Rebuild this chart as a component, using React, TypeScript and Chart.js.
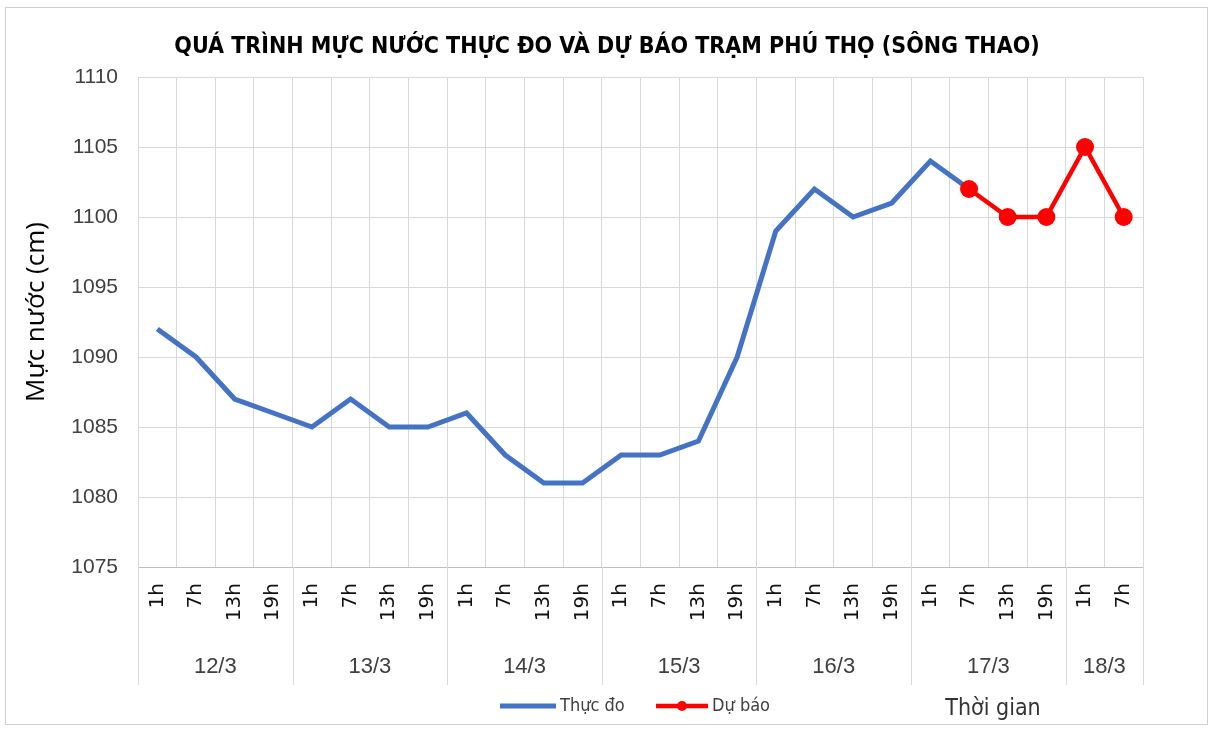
import React, { useEffect, useRef } from "react";
import { Chart, registerables } from "chart.js";

Chart.register(...registerables);

const chartTitle = "QUÁ TRÌNH MỰC NƯỚC THỰC ĐO VÀ DỰ BÁO TRẠM PHÚ THỌ (SÔNG THAO)";
const yAxisTitle = "Mực nước (cm)";
const xAxisTitle = "Thời gian";

const timeLabels = [
  "1h", "7h", "13h", "19h",
  "1h", "7h", "13h", "19h",
  "1h", "7h", "13h", "19h",
  "1h", "7h", "13h", "19h",
  "1h", "7h", "13h", "19h",
  "1h", "7h", "13h", "19h",
  "1h", "7h",
];
const dayLabels = ["12/3", "13/3", "14/3", "15/3", "16/3", "17/3", "18/3"];
const daySpans = [4, 4, 4, 4, 4, 4, 2];

const measuredName = "Thực đo";
const forecastName = "Dự báo";
const measured = [
  1092, 1090, 1087, 1086,
  1085, 1087, 1085, 1085,
  1086, 1083, 1081, 1081,
  1083, 1083, 1084, 1090,
  1099, 1102, 1100, 1101,
  1104, 1102, null, null,
  null, null,
];
const forecast = [
  null, null, null, null,
  null, null, null, null,
  null, null, null, null,
  null, null, null, null,
  null, null, null, null,
  null, 1102, 1100, 1100,
  1105, 1100,
];

const yMin = 1075;
const yMax = 1110;
const yStep = 5;

const NARROW = "'Liberation Sans Narrow', 'DejaVu Sans Condensed', sans-serif";
const SANS = "'Liberation Sans', Arial, sans-serif";
const DEJAVU = "'DejaVu Sans', sans-serif";
const OPEN = "'Open Sans', 'Noto Sans', sans-serif";
const BLUE = "#4472C4";
const RED = "#FF0000";
const GRID = "#d9d9d9";

const decorPlugin = {
  id: "decor",
  afterDraw(chart: any) {
    const ctx = chart.ctx as CanvasRenderingContext2D;
    const area = chart.chartArea;
    const n = timeLabels.length;
    const w = (area.right - area.left) / n;
    ctx.save();

    // outer border
    ctx.strokeStyle = "#d0d0d0";
    ctx.lineWidth = 1;
    ctx.strokeRect(5.5, 7.5, 1202, 717);

    // title
    ctx.fillStyle = "#000";
    ctx.textAlign = "center";
    ctx.textBaseline = "middle";
    ctx.font = `bold 23px ${NARROW}`;
    ctx.fillText(chartTitle, 607, 47);

    // y title
    ctx.save();
    ctx.translate(37, 312);
    ctx.rotate(-Math.PI / 2);
    ctx.font = `26px ${OPEN}`;
    ctx.fillStyle = "#000";
    ctx.fillText(yAxisTitle, 0, 0);
    ctx.restore();

    // group separators and labels
    ctx.strokeStyle = GRID;
    ctx.lineWidth = 1;
    let idx = 0;
    const bounds: number[] = [0];
    daySpans.forEach((s) => {
      idx += s;
      bounds.push(idx);
    });
    bounds.forEach((b) => {
      const x = Math.round(area.left + b * w) + 0.5;
      ctx.beginPath();
      ctx.moveTo(x, area.bottom);
      ctx.lineTo(x, 685);
      ctx.stroke();
    });
    ctx.font = `22px ${SANS}`;
    ctx.fillStyle = "#404040";
    dayLabels.forEach((d, i) => {
      const cx = area.left + ((bounds[i] + bounds[i + 1]) / 2) * w;
      ctx.fillText(d, cx, 667);
    });

    // legend
    const ly = 706;
    ctx.lineCap = "butt";
    ctx.strokeStyle = BLUE;
    ctx.lineWidth = 5;
    ctx.beginPath();
    ctx.moveTo(500, ly);
    ctx.lineTo(556, ly);
    ctx.stroke();
    ctx.font = `18px ${NARROW}`;
    ctx.fillStyle = "#404040";
    ctx.textAlign = "left";
    ctx.fillText(measuredName, 560, ly);
    ctx.strokeStyle = RED;
    ctx.lineWidth = 4.5;
    ctx.beginPath();
    ctx.moveTo(656, ly);
    ctx.lineTo(708, ly);
    ctx.stroke();
    ctx.fillStyle = RED;
    ctx.beginPath();
    ctx.arc(682, ly, 5, 0, Math.PI * 2);
    ctx.fill();
    ctx.fillStyle = "#404040";
    ctx.fillText(forecastName, 712, ly);

    // x title
    ctx.textAlign = "center";
    ctx.font = `23px ${NARROW}`;
    ctx.fillStyle = "#333";
    ctx.fillText(xAxisTitle, 993, 709);

    ctx.restore();
  },
};

export default function App() {
  const ref = useRef<HTMLCanvasElement | null>(null);
  useEffect(() => {
    if (!ref.current) return;
    const chart = new Chart(ref.current, {
      type: "line",
      data: {
        labels: timeLabels,
        datasets: [
          {
            label: forecastName,
            data: forecast,
            borderColor: RED,
            backgroundColor: RED,
            borderWidth: 4.5,
            pointRadius: 9,
            pointBackgroundColor: RED,
            pointBorderColor: RED,
            pointBorderWidth: 0,
            tension: 0,
            spanGaps: false,
            order: 0,
          },
          {
            label: measuredName,
            data: measured,
            borderColor: BLUE,
            backgroundColor: BLUE,
            borderWidth: 5,
            pointRadius: 0,
            tension: 0,
            borderJoinStyle: "miter",
            spanGaps: false,
            order: 1,
          },
        ],
      },
      options: {
        responsive: false,
        animation: false,
        devicePixelRatio: 1,
        layout: { padding: { top: 77, right: 71, left: 0, bottom: 0 } },
        plugins: {
          legend: { display: false },
          tooltip: { enabled: false },
          title: { display: false },
        },
        scales: {
          x: {
            type: "category",
            offset: true,
            grid: { offset: true, color: GRID, drawTicks: false, lineWidth: 1 },
            border: { display: true, color: "#bfbfbf" },
            ticks: {
              autoSkip: false,
              minRotation: 90,
              maxRotation: 90,
              padding: 16,
              color: "#111",
              font: { family: DEJAVU, size: 20 },
            },
            afterFit(scale: any) {
              scale.height = 162;
            },
          },
          y: {
            min: yMin,
            max: yMax,
            grid: { color: GRID, drawTicks: false },
            border: { display: false },
            ticks: {
              stepSize: yStep,
              padding: 20,
              color: "#404040",
              font: { family: SANS, size: 21 },
              callback: (v: any) => String(v),
            },
            afterFit(scale: any) {
              scale.width = 138;
            },
          },
        },
      },
      plugins: [decorPlugin],
    } as any);
    return () => chart.destroy();
  }, []);
  return (
    <div style={{ position: "absolute", left: 0, top: 0, width: 1214, height: 729, background: "#fff" }}>
      <canvas ref={ref} width={1214} height={729} />
    </div>
  );
}
